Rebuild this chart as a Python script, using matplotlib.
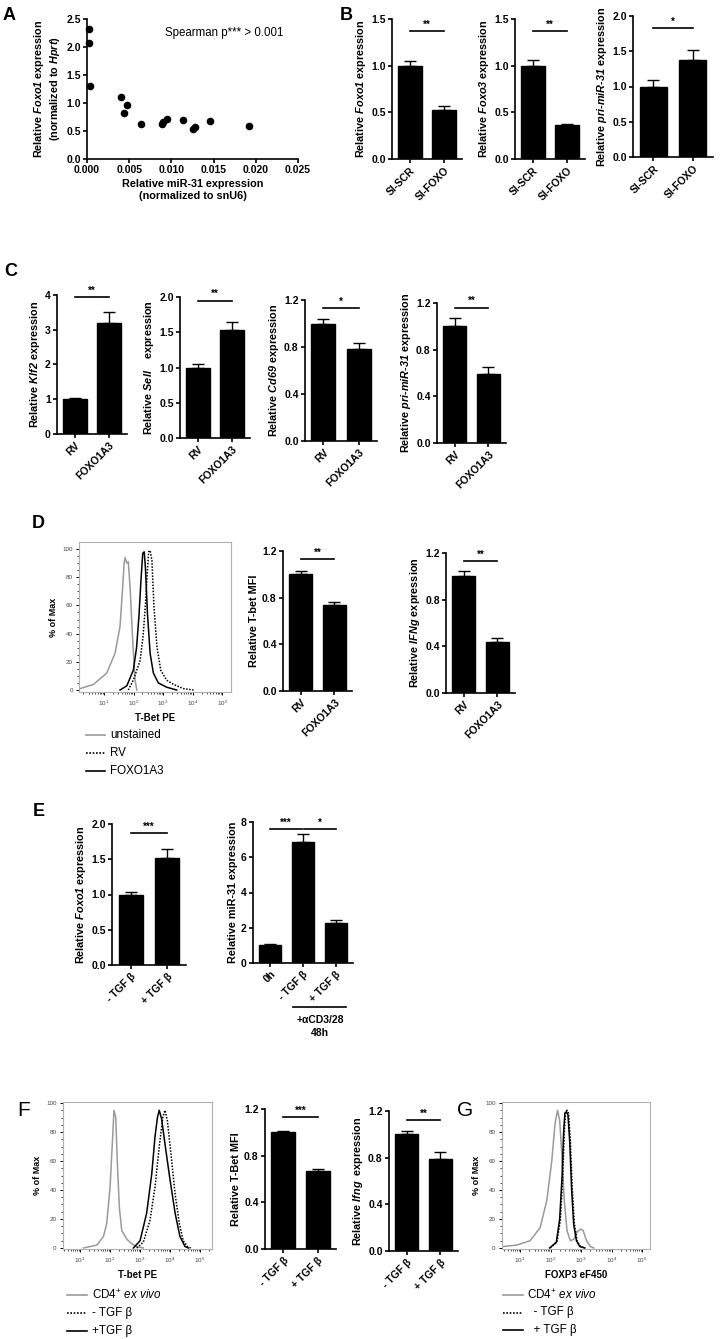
import matplotlib
matplotlib.use("Agg")
import matplotlib.pyplot as plt
import numpy as np

plt.rcParams["font.family"] = ["Liberation Sans", "DejaVu Sans"]
plt.rcParams["font.weight"] = "bold"
plt.rcParams["axes.labelweight"] = "bold"
plt.rcParams["mathtext.fontset"] = "custom"
plt.rcParams["mathtext.rm"] = "Liberation Sans:normal"
plt.rcParams["mathtext.it"] = "Liberation Sans:italic:normal"
plt.rcParams["mathtext.bf"] = "Liberation Sans:bold"
plt.rcParams["mathtext.bfit"] = "Liberation Sans:italic:bold"
plt.rcParams["axes.linewidth"] = 1.2

# ── A: scatter ──────────────────────────────────────────────
A_mir31 = [0.0002, 0.0002, 0.0004, 0.0040, 0.0047, 0.0044, 0.0064, 0.0089,
           0.0090, 0.0095, 0.0114, 0.0125, 0.0128, 0.0146, 0.0192]
A_foxo1 = [2.33, 2.07, 1.30, 1.10, 0.97, 0.83, 0.62, 0.63,
           0.66, 0.72, 0.69, 0.53, 0.58, 0.68, 0.59]

# ── bar panels ──────────────────────────────────────────────
B_labels = ["SI-SCR", "SI-FOXO"]
B_foxo1, B_foxo1_err = [1.00, 0.53], [0.05, 0.035]
B_foxo3, B_foxo3_err = [1.00, 0.36], [0.06, 0.015]
B_pri, B_pri_err = [1.00, 1.38], [0.09, 0.14]

C_labels = ["RV", "FOXO1A3"]
C_klf2, C_klf2_err = [1.00, 3.18], [0.04, 0.33]
C_sell, C_sell_err = [1.00, 1.53], [0.05, 0.11]
C_cd69, C_cd69_err = [1.00, 0.78], [0.04, 0.05]
C_pri, C_pri_err = [1.00, 0.59], [0.07, 0.065]

D_tbet, D_tbet_err = [1.00, 0.74], [0.025, 0.02]
D_ifng, D_ifng_err = [1.00, 0.44], [0.045, 0.035]

E_labels1 = ["- TGF β", "+ TGF β"]
E_labels2 = ["0h", "- TGF β", "+ TGF β"]
E_foxo1, E_foxo1_err = [1.00, 1.52], [0.03, 0.12]
E_mir31, E_mir31_err = [1.00, 6.85, 2.25], [0.06, 0.45, 0.20]

F_labels = ["- TGF β", "+ TGF β"]
F_tbet, F_tbet_err = [1.00, 0.67], [0.015, 0.02]
F_ifng, F_ifng_err = [1.00, 0.79], [0.025, 0.06]

# ── flow histograms (x in log10 units, y in % of max) ───────
D_unst_x = [0.19, 0.64, 1.09, 1.37, 1.54, 1.63, 1.68, 1.71, 1.77, 1.82, 1.88, 1.97, 2.05, 2.11]
D_unst_y = [1, 4, 12, 26, 45, 73, 90, 94, 90, 91, 73, 35, 7, 0]
D_foxo_x = [1.54, 1.77, 1.99, 2.10, 2.18, 2.25, 2.31, 2.36, 2.40, 2.47, 2.56, 2.67, 2.84, 3.12, 3.46]
D_foxo_y = [0, 3, 14, 30, 52, 78, 97, 98, 87, 54, 26, 12, 5, 2, 0]
D_rv_x = [1.82, 1.99, 2.22, 2.32, 2.40, 2.46, 2.51, 2.56, 2.62, 2.69, 2.79, 2.92, 3.12, 3.35, 3.69, 4.03]
D_rv_y = [0, 7, 21, 38, 60, 82, 98, 99, 92, 59, 31, 14, 7, 4, 1, 0]

F_cd4_x = [1.11, 1.56, 1.78, 1.89, 2.00, 2.08, 2.13, 2.19, 2.24, 2.31, 2.39, 2.56, 2.72, 2.89, 3.11]
F_cd4_y = [0, 2, 8, 17, 42, 74, 95, 90, 60, 28, 12, 6, 3, 1, 0]
F_plus_x = [2.78, 3.00, 3.22, 3.39, 3.50, 3.58, 3.64, 3.72, 3.83, 4.00, 4.17, 4.33, 4.50, 4.61]
F_plus_y = [0, 5, 24, 51, 77, 90, 95, 89, 72, 47, 24, 8, 1, 0]
F_minus_x = [2.89, 3.11, 3.33, 3.50, 3.64, 3.76, 3.83, 3.91, 4.02, 4.17, 4.31, 4.44, 4.58, 4.69]
F_minus_y = [0, 4, 19, 42, 70, 90, 95, 88, 67, 37, 17, 5, 1, 0]

G_cd4_x = [0.45, 0.89, 1.33, 1.66, 1.88, 2.04, 2.15, 2.23, 2.30, 2.37, 2.45, 2.54,
           2.65, 2.76, 2.87, 2.98, 3.07, 3.18, 3.31, 3.42]
G_cd4_y = [1, 2, 5, 14, 33, 60, 86, 95, 88, 65, 33, 12, 5, 6, 11, 13, 12, 5, 1, 0]
G_minus_x = [1.99, 2.21, 2.32, 2.40, 2.45, 2.49, 2.54, 2.59, 2.65, 2.71, 2.78, 2.87, 2.98, 3.14]
G_minus_y = [0, 4, 19, 49, 79, 93, 95, 93, 74, 42, 17, 5, 1, 0]
G_plus_x = [1.97, 2.19, 2.30, 2.38, 2.43, 2.47, 2.52, 2.57, 2.63, 2.69, 2.76, 2.85, 2.96, 3.12]
G_plus_y = [0, 4, 20, 50, 80, 93, 94, 92, 73, 41, 16, 5, 1, 0]

GREY = "#9a9a9a"
W, H = 720, 1339
fig = plt.figure(figsize=(W / 100, H / 100), dpi=100)


def px_axes(x0, y0, x1, y1):
    return fig.add_axes([x0 / W, 1 - y1 / H, (x1 - x0) / W, (y1 - y0) / H])


def bar_panel(rect, vals, errs, labels, ymax, yticks, ylabel, sigs, fmt="{:.1f}"):
    ax = px_axes(*rect)
    x = np.arange(len(vals))
    ax.bar(x, vals, width=0.68, color="black", edgecolor="black")
    ax.errorbar(x, vals, yerr=[np.zeros(len(vals)), errs], fmt="none",
                ecolor="black", elinewidth=1, capsize=4.5, capthick=1)
    ax.set_xlim(-0.52, len(vals) - 0.48)
    ax.set_ylim(0, ymax)
    ax.set_yticks(yticks)
    ax.set_yticklabels([fmt.format(t) for t in yticks])
    ax.set_xticks(x)
    ax.set_xticklabels(labels, rotation=45, ha="right", rotation_mode="anchor")
    ax.spines[["top", "right"]].set_visible(False)
    ax.tick_params(length=3, width=1.2, labelsize=7.5, pad=1.5)
    ax.set_ylabel(ylabel, fontsize=7.8, labelpad=2)
    for x0, x1, y, s in sigs:
        ax.plot([x0, x1], [y, y], color="black", lw=1.2, clip_on=False)
        ax.text((x0 + x1) / 2, y + ymax * 0.01, s, ha="center", va="bottom", fontsize=7)
    return ax


def flow_panel(rect, curves, xlim, ylim, xlabel):
    ax = px_axes(*rect)
    for xs, ys, color, ls in curves:
        ax.plot(xs, ys, color=color, ls=ls, lw=1.1)
    ax.set_xlim(*xlim)
    ax.set_ylim(*ylim)
    for s in ax.spines.values():
        s.set_color("#b0b0b0")
        s.set_linewidth(0.8)
    ax.set_yticks([0, 20, 40, 60, 80, 100])
    ax.set_yticks(np.arange(0, 101, 5), minor=True)
    ax.set_xticks([1, 2, 3, 4, 5])
    ax.set_xticklabels([r"$10^{%d}$" % n for n in range(1, 6)])
    minors = [n + np.log10(k) for n in range(0, 6) for k in range(2, 10)]
    ax.set_xticks([m for m in minors if xlim[0] < m < xlim[1]], minor=True)
    ax.tick_params(which="major", length=2.5, width=0.7, labelsize=4.5,
                   labelcolor="#444444", pad=2)
    ax.tick_params(which="minor", length=1.5, width=0.5)
    for lab in ax.get_yticklabels():
        lab.set_fontweight("normal")
    ax.set_ylabel("% of Max", fontsize=6.5, labelpad=3)
    ax.set_xlabel(xlabel, fontsize=7, labelpad=4)
    return ax


# ── A ──
ax = px_axes(87, 19, 298, 159)
ax.scatter(A_mir31, A_foxo1, s=20, color="black", zorder=3, clip_on=False)
ax.set_xlim(0, 0.025)
ax.set_ylim(0, 2.5)
ax.set_xticks([0, 0.005, 0.010, 0.015, 0.020, 0.025])
ax.set_xticklabels(["0.000", "0.005", "0.010", "0.015", "0.020", "0.025"])
ax.set_yticks([0, 0.5, 1.0, 1.5, 2.0, 2.5])
ax.set_yticklabels(["0.0", "0.5", "1.0", "1.5", "2.0", "2.5"])
ax.spines[["top", "right"]].set_visible(False)
ax.tick_params(length=3, width=1.2, labelsize=7.5, pad=1.5)
ax.set_ylabel("Relative $\\mathbfit{Foxo1}$ expression\n(normalized to $\\mathbfit{Hprt}$)",
              fontsize=7.8, labelpad=3)
ax.set_xlabel("Relative miR-31 expression\n(normalized to snU6)", fontsize=7.8, labelpad=3)
ax.text(0.0233, 2.25, "Spearman p*** > 0.001", ha="right", va="center",
        fontsize=8.3, fontweight="normal")

# ── B ──
bar_panel((392, 19, 462, 159), B_foxo1, B_foxo1_err, B_labels, 1.5, [0, 0.5, 1.0, 1.5],
          "Relative $\\mathbfit{Foxo1}$ expression", [(0, 1, 1.37, "**")])
bar_panel((515, 19, 585, 159), B_foxo3, B_foxo3_err, B_labels, 1.5, [0, 0.5, 1.0, 1.5],
          "Relative $\\mathbfit{Foxo3}$ expression", [(0, 1, 1.37, "**")])
bar_panel((633, 16, 713, 157), B_pri, B_pri_err, B_labels, 2.0, [0, 0.5, 1.0, 1.5, 2.0],
          "Relative $\\mathbfit{pri}$-$\\mathbfit{miR}$-$\\mathbfit{31}$ expression",
          [(0, 1, 1.83, "*")])

# ── C ──
bar_panel((57, 295, 127, 434), C_klf2, C_klf2_err, C_labels, 4, [0, 1, 2, 3, 4],
          "Relative $\\mathbfit{Klf2}$ expression", [(0, 1, 3.93, "**")], fmt="{:.0f}")
bar_panel((180, 297, 250, 438), C_sell, C_sell_err, C_labels, 2.0, [0, 0.5, 1.0, 1.5, 2.0],
          "Relative $\\mathbfit{Sell}$    expression", [(0, 1, 1.95, "**")])
bar_panel((305, 300, 377, 441), C_cd69, C_cd69_err, C_labels, 1.2, [0, 0.4, 0.8, 1.2],
          "Relative $\\mathbfit{Cd69}$ expression", [(0, 1, 1.13, "*")])
bar_panel((437, 303, 506, 443), C_pri, C_pri_err, C_labels, 1.2, [0, 0.4, 0.8, 1.2],
          "Relative $\\mathbfit{pri}$-$\\mathbfit{miR}$-$\\mathbfit{31}$ expression",
          [(0, 1, 1.16, "**")])

# ── D ──
flow_panel((79, 542, 231, 692),
           [(D_unst_x, D_unst_y, GREY, "-"), (D_rv_x, D_rv_y, "black", (0, (1, 1))),
            (D_foxo_x, D_foxo_y, "black", "-")],
           (0.15, 5.3), (-1.4, 105), "T-Bet PE")
bar_panel((283, 551, 352, 691), D_tbet, D_tbet_err, C_labels, 1.2, [0, 0.4, 0.8, 1.2],
          "Relative T-bet MFI", [(0, 1, 1.13, "**")])
bar_panel((446, 553, 515, 693), D_ifng, D_ifng_err, C_labels, 1.2, [0, 0.4, 0.8, 1.2],
          "Relative $\\mathbfit{IFNg}$ expression", [(0, 1, 1.13, "**")])

# ── E ──
bar_panel((112, 824, 186, 965), E_foxo1, E_foxo1_err, E_labels1, 2.0, [0, 0.5, 1.0, 1.5, 2.0],
          "Relative $\\mathbfit{Foxo1}$ expression", [(0, 1, 1.87, "***")])
bar_panel((253, 822, 353, 963), E_mir31, E_mir31_err, E_labels2, 8, [0, 2, 4, 6, 8],
          "Relative miR-31 expression", [(0, 0.97, 7.6, "***"), (1.03, 2, 7.6, "*")],
          fmt="{:.0f}")

# ── F / G ──
flow_panel((63, 1102, 212, 1249),
           [(F_cd4_x, F_cd4_y, GREY, "-"), (F_minus_x, F_minus_y, "black", (0, (1, 1))),
            (F_plus_x, F_plus_y, "black", "-")],
           (0.43, 5.4), (-0.7, 100.7), "T-bet PE")
bar_panel((265, 1109, 336, 1249), F_tbet, F_tbet_err, F_labels, 1.2, [0, 0.4, 0.8, 1.2],
          "Relative T-Bet MFI", [(0, 1, 1.13, "***")])
bar_panel((389, 1111, 458, 1251), F_ifng, F_ifng_err, F_labels, 1.2, [0, 0.4, 0.8, 1.2],
          "Relative $\\mathbfit{Ifng}$  expression", [(0, 1, 1.12, "**")])
flow_panel((502, 1102, 650, 1249),
           [(G_cd4_x, G_cd4_y, GREY, "-"), (G_minus_x, G_minus_y, "black", (0, (1, 1))),
            (G_plus_x, G_plus_y, "black", "-")],
           (0.41, 5.26), (-0.7, 100.7), "FOXP3 eF450")

# ── overlay: panel letters, legends, annotations ──
ov = fig.add_axes([0, 0, 1, 1])
ov.set_xlim(0, W)
ov.set_ylim(H, 0)
ov.axis("off")
ov.patch.set_alpha(0)

for letter, x, y, wt in [("A", 3, 15, "bold"), ("B", 340, 15, "bold"), ("C", 4, 271, "bold"),
                         ("D", 32, 524, "bold"), ("E", 33, 811, "bold"),
                         ("F", 17, 1110, "normal"), ("G", 457, 1110, "normal")]:
    ov.text(x, y, letter, fontsize=13 if wt == "bold" else 15, fontweight=wt,
            ha="left", va="center")

legend_d = [("unstained", GREY, "-"), ("RV", "black", (0, (1, 1))), ("FOXO1A3", "black", "-")]
for i, (lab, c, ls) in enumerate(legend_d):
    y = 735 + i * 18
    ov.plot([86, 105], [y, y], color=c, ls=ls, lw=1.2)
    ov.text(110, y, lab, fontsize=8.4, fontweight="normal", va="center")

legend_f = [("CD4$^{+}$ $\\mathit{ex\\ vivo}$", GREY, "-"), ("- TGF β", "black", (0, (1, 1))),
            ("+TGF β", "black", "-")]
for i, (lab, c, ls) in enumerate(legend_f):
    y = 1295 + i * 18
    ov.plot([67, 87], [y, y], color=c, ls=ls, lw=1.2)
    ov.text(92, y, lab, fontsize=8.4, fontweight="normal", va="center")

legend_g = [("CD4$^{+}$ $\\mathit{ex\\ vivo}$", GREY, "-"), ("  - TGF β", "black", (0, (1, 1))),
            ("  + TGF β", "black", "-")]
for i, (lab, c, ls) in enumerate(legend_g):
    y = 1295 + i * 17.5
    ov.plot([503, 523], [y, y], color=c, ls=ls, lw=1.2)
    ov.text(527, y, lab, fontsize=8.4, fontweight="normal", va="center")

ov.plot([293, 346], [1007, 1007], color="black", lw=1.2)
ov.text(320, 1020, "+αCD3/28", fontsize=7.5, ha="center", va="center")
ov.text(320, 1033, "48h", fontsize=7.5, ha="center", va="center")

fig.savefig("out.png", dpi=100, facecolor="white")
